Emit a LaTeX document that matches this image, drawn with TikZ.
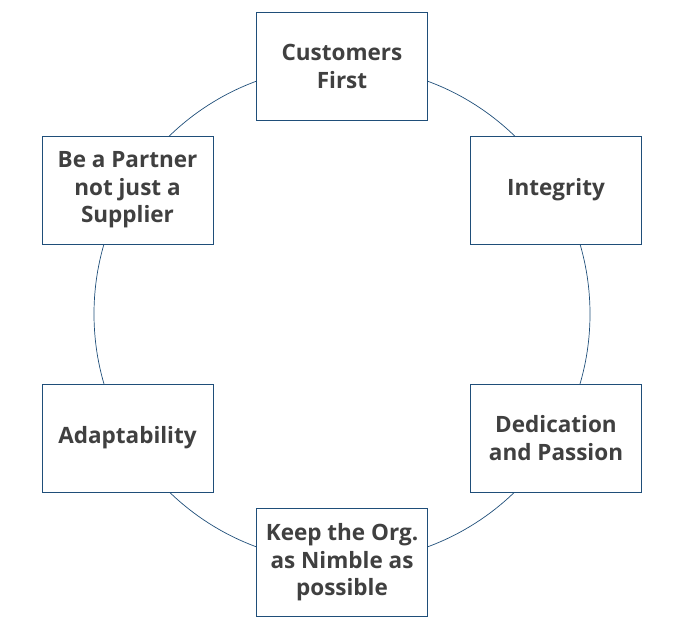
\documentclass[tikz,border=0pt]{standalone}
\usepackage{fontspec}
\setmainfont{Open Sans}
\definecolor{boxblue}{HTML}{1F4E79}
\definecolor{txt}{HTML}{404040}
\begin{document}
\begin{tikzpicture}[x=1pt,y=-1pt,
  valbox/.style={draw=boxblue, line width=1pt, fill=white, minimum width=171pt, minimum height=108pt,
    inner sep=0pt, align=center, text=txt, font=\fontsize{22.5}{27.5}\selectfont\bfseries}]
\useasboundingbox (0,0) rectangle (688,627);
\draw[boxblue, line width=0.7pt] (342,314) circle (248);
\node[valbox] (a) at (342,66.5) {Customers\\First};
\node[valbox] (b) at (556,190) {Integrity};
\node[valbox] (c) at (556,438) {Dedication\\and Passion};
\node[valbox] (d) at (342,562.5) {Keep the Org.\\as Nimble as\\possible};
\node[valbox] (e) at (127.5,438) {Adaptability};
\node[valbox] (f) at (127.5,190) {Be a Partner\\not just a\\Supplier};
\end{tikzpicture}
\end{document}
